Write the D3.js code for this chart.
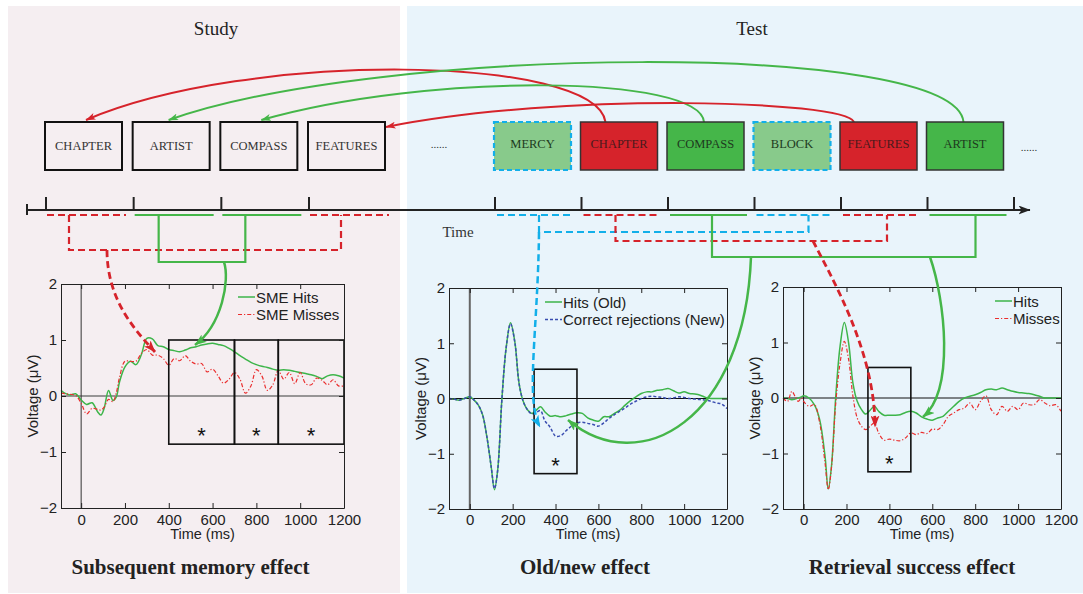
<!DOCTYPE html>
<html><head><meta charset="utf-8">
<script src="https://cdn.jsdelivr.net/npm/d3@7"></script>
<style>body{margin:0;background:#fff}svg{display:block}</style>
</head><body><svg id="c" width="1083" height="594"></svg>
<script>
// ---------------- DATA ----------------
const studyWords = ["CHAPTER", "ARTIST", "COMPASS", "FEATURES"];
const studyOutcome = ["miss", "hit", "hit", "miss"];
const testWords = ["MERCY", "CHAPTER", "COMPASS", "BLOCK", "FEATURES", "ARTIST"];
const testType = ["new", "miss", "hit", "new", "miss", "hit"];
const xTicks = [0, 200, 400, 600, 800, 1000, 1200];
const yTicks = [-2, -1, 0, 1, 2];
const yDomain = [-2, 2];

// Subsequent memory effect
const smeTime = [-92,-75,-50,-25,0,25,50,75,90,105,125,145,160,175,200,225,250,275,300,325,350,375,400,425,450,475,500,525,550,575,600,625,650,675,700,725,750,775,800,825,850,875,900,925,950,975,1000,1025,1050,1075,1100,1125,1150,1175,1200];
const smeHits = [0.10,0.05,0.02,0.04,-0.07,-0.15,-0.12,-0.28,-0.34,-0.22,0.10,-0.08,-0.02,0.25,0.52,0.62,0.56,0.74,1.03,1.02,0.90,0.88,0.83,0.81,0.79,0.82,0.86,0.88,0.91,0.93,0.94,0.92,0.90,0.85,0.79,0.72,0.66,0.60,0.56,0.53,0.51,0.48,0.46,0.47,0.46,0.44,0.42,0.40,0.38,0.35,0.31,0.36,0.38,0.36,0.32];
const smeMisses = [0.05,0.04,0.03,0.01,-0.13,-0.32,-0.22,-0.24,-0.25,-0.20,-0.06,-0.10,0.05,0.33,0.62,0.62,0.62,0.76,0.83,0.73,0.73,0.67,0.55,0.67,0.63,0.72,0.62,0.57,0.58,0.43,0.48,0.36,0.23,0.30,0.42,0.30,0.05,0.18,0.47,0.36,0.10,0.20,0.46,0.30,0.42,0.22,0.42,0.22,0.20,0.32,0.28,0.20,0.29,0.18,0.18];
const smeWindows = [[400, 700], [700, 900], [900, 1200]];

// Old/new effect
const onTime = [-97,-75,-50,-25,0,20,40,60,80,100,115,130,150,170,190,210,230,250,270,290,310,330,350,375,400,425,450,475,500,525,550,575,600,625,650,675,700,725,750,775,800,825,850,875,900,925,950,975,1000,1025,1050,1075,1100,1125,1150,1175,1200];
const onHits = [0.0,-0.01,-0.03,0.0,0.03,-0.03,-0.12,-0.30,-0.70,-1.24,-1.65,-1.30,0.0,0.93,1.37,1.03,0.27,-0.06,-0.21,-0.27,-0.21,-0.15,-0.24,-0.32,-0.31,-0.33,-0.31,-0.28,-0.26,-0.27,-0.35,-0.39,-0.41,-0.33,-0.33,-0.27,-0.21,-0.12,-0.04,0.03,0.09,0.12,0.12,0.15,0.16,0.18,0.14,0.10,0.12,0.09,0.08,0.06,0.02,0.0,0.0,0.0,0.0];
const onCorrectRejections = [0.0,-0.01,-0.03,0.0,0.03,-0.03,-0.12,-0.30,-0.70,-1.24,-1.63,-1.30,0.0,0.93,1.35,1.02,0.27,-0.06,-0.21,-0.28,-0.25,-0.22,-0.40,-0.52,-0.68,-0.67,-0.58,-0.50,-0.44,-0.43,-0.45,-0.47,-0.50,-0.44,-0.36,-0.29,-0.23,-0.17,-0.10,-0.05,0.0,0.03,0.04,0.03,0.02,0.0,0.01,0.03,0.02,0.0,-0.01,-0.02,-0.03,-0.05,-0.08,-0.10,-0.18];
const onWindows = [[300, 500]];

// Retrieval success effect
const rsTime = [-96,-75,-55,-40,-25,-10,0,25,50,75,100,115,130,150,170,190,210,230,250,270,290,310,330,350,375,400,425,450,475,500,525,550,575,600,625,650,675,700,725,750,775,800,825,850,875,900,925,950,975,1000,1025,1050,1075,1100,1125,1150,1175,1200];
const rsHits = [0.0,-0.01,-0.03,-0.02,0.0,0.02,0.04,0.0,-0.12,-0.39,-1.05,-1.64,-1.23,0.03,0.93,1.36,0.99,0.27,-0.06,-0.21,-0.29,-0.22,-0.15,-0.24,-0.31,-0.31,-0.31,-0.30,-0.26,-0.24,-0.27,-0.34,-0.38,-0.40,-0.36,-0.33,-0.24,-0.15,-0.06,0.0,0.03,0.06,0.10,0.15,0.16,0.15,0.18,0.15,0.12,0.10,0.09,0.08,0.06,0.03,0.0,0.0,0.0,0.0];
const rsMisses = [0.0,-0.06,0.12,0.03,-0.06,0.0,-0.06,-0.15,-0.12,-0.45,-1.17,-1.65,-1.25,-0.09,0.63,1.02,0.69,0.03,-0.36,-0.51,-0.57,-0.51,-0.45,-0.63,-0.76,-0.74,-0.76,-0.77,-0.72,-0.63,-0.66,-0.62,-0.64,-0.56,-0.57,-0.48,-0.33,-0.27,-0.21,-0.18,-0.09,-0.21,-0.06,0.04,-0.21,-0.30,-0.15,-0.24,-0.15,-0.21,-0.09,-0.12,-0.12,-0.03,-0.09,-0.14,-0.12,-0.24];
const rsWindows = [[300, 500]];

// ---------------- STYLE ----------------
const C = {
  red: "#d6232b", green: "#45b649", lightGreen: "#88ca8b", cyan: "#12afe9",
  lineGreen: "#3db54a", lineRed: "#ea2e2e", lineBlue: "#3a4db0",
  study: "#f5eef1", test: "#e9f4fb"
};
const sans = "'Liberation Sans', Arial, sans-serif";
const serif = "'Liberation Serif', 'Times New Roman', serif";

const svg = d3.select("#c");

// markers
const defs = svg.append("defs");
function marker(id, color, len, wid) {
  defs.append("marker").attr("id", id)
    .attr("viewBox", `0 0 ${len} ${wid}`)
    .attr("refX", len - 0.5).attr("refY", wid / 2)
    .attr("markerWidth", len).attr("markerHeight", wid)
    .attr("markerUnits", "userSpaceOnUse").attr("orient", "auto")
    .append("path")
    .attr("d", `M0,0 L${len},${wid / 2} L0,${wid} L${len * 0.25},${wid / 2} Z`)
    .attr("fill", color);
}
marker("aRed", C.red, 12, 9);
marker("aGreen", C.green, 12, 9);
marker("aCyan", C.cyan, 12, 9);
marker("aRedS", C.red, 10, 7);
marker("aGreenS", C.green, 10, 7);
marker("aBlack", "#222", 12, 9);

// panels
svg.append("rect").attr("x", 8).attr("y", 6).attr("width", 392).attr("height", 587).attr("fill", C.study);
svg.append("rect").attr("x", 407).attr("y", 6).attr("width", 676).attr("height", 587).attr("fill", C.test);
svg.append("text").attr("x", 216).attr("y", 35).attr("text-anchor", "middle")
  .style("font-family", serif).style("font-size", "19px").attr("fill", "#222").text("Study");
svg.append("text").attr("x", 752).attr("y", 35).attr("text-anchor", "middle")
  .style("font-family", serif).style("font-size", "19px").attr("fill", "#222").text("Test");

// timeline scales (slot -> x)
const studyX = d3.scaleLinear().domain([0, 3]).range([46, 309]);
const testX = d3.scaleLinear().domain([0, 6]).range([495, 1014]);
const boxW = 77, boxTop = 122, boxH = 48, lineY = 210;

// ---- top arcs (test word -> studied word) ----
const arcs = [
  { from: 1, to: 0, color: C.red, sdx: 25, edx: 41, c1: [595, 55], c2: [250, 50], endY: 120 },
  { from: 5, to: 1, color: C.green, sdx: 37, edx: 36, c1: [955, 40], c2: [380, 45], endY: 120 },
  { from: 2, to: 2, color: C.green, sdx: 37, edx: 41, c1: [700, 75], c2: [430, 72], endY: 120 },
  { from: 4, to: 3, color: C.red, sdx: 14, edx: 78, c1: [845, 100], c2: [560, 92], endY: 127 }
];
arcs.forEach(a => {
  const p = d3.path();
  p.moveTo(testX(a.from) - 1 + a.sdx, boxTop);
  p.bezierCurveTo(a.c1[0], a.c1[1], a.c2[0], a.c2[1], studyX(a.to) - 1 + a.edx, a.endY);
  svg.append("path").attr("d", p.toString()).attr("fill", "none").attr("stroke", a.color)
    .attr("stroke-width", 2).attr("marker-end", a.color === C.red ? "url(#aRedS)" : "url(#aGreenS)");
});

// ---- study boxes ----
studyWords.forEach((w, i) => {
  svg.append("rect").attr("x", studyX(i) - 1).attr("y", boxTop).attr("width", boxW).attr("height", boxH)
    .attr("fill", "none").attr("stroke", "#111").attr("stroke-width", 2);
  svg.append("text").attr("x", studyX(i) - 1 + boxW / 2).attr("y", boxTop + 28).attr("text-anchor", "middle")
    .style("font-family", serif).style("font-size", "12.5px").attr("fill", "#333").text(w);
});
// ---- test boxes ----
testWords.forEach((w, i) => {
  const t = testType[i];
  const fill = t === "new" ? C.lightGreen : t === "miss" ? C.red : C.green;
  svg.append("rect").attr("x", testX(i) - 1).attr("y", boxTop).attr("width", boxW).attr("height", boxH)
    .attr("fill", fill)
    .attr("stroke", t === "new" ? C.cyan : "#333")
    .attr("stroke-width", t === "new" ? 2.2 : 1.5)
    .attr("stroke-dasharray", t === "new" ? "5,3" : null);
  svg.append("text").attr("x", testX(i) - 1 + boxW / 2).attr("y", boxTop + 26).attr("text-anchor", "middle")
    .style("font-family", serif).style("font-size", "12.5px").attr("fill", t === "miss" ? "#4a1a1c" : "#1e3a1e").text(w);
});
svg.append("text").attr("x", 439).attr("y", 148).attr("text-anchor", "middle")
  .style("font-family", serif).style("font-size", "11px").attr("fill", "#333").text("......");
svg.append("text").attr("x", 1029).attr("y", 151).attr("text-anchor", "middle")
  .style("font-family", serif).style("font-size", "11px").attr("fill", "#333").text("......");

// ---- timeline ----
svg.append("line").attr("x1", 27).attr("x2", 1030).attr("y1", lineY).attr("y2", lineY)
  .attr("stroke", "#222").attr("stroke-width", 2).attr("marker-end", "url(#aBlack)");
svg.append("line").attr("x1", 27).attr("x2", 27).attr("y1", 204).attr("y2", 215).attr("stroke", "#222").attr("stroke-width", 2);
const tickXs = [0, 1, 2, 3].map(studyX).concat([0, 1, 2, 3, 4, 5, 6].map(testX));
tickXs.forEach(x => svg.append("line").attr("x1", x).attr("x2", x).attr("y1", 197).attr("y2", lineY)
  .attr("stroke", "#222").attr("stroke-width", 2));
svg.append("text").attr("x", 458).attr("y", 237).attr("text-anchor", "middle")
  .style("font-family", serif).style("font-size", "15px").attr("fill", "#333").text("Time");

// segments under each word
const segY = 215;
function segStyle(kind) {
  if (kind === "miss") return { c: C.red, d: "7,4" };
  if (kind === "new") return { c: C.cyan, d: "7,4" };
  return { c: C.green, d: null };
}
studyOutcome.forEach((k, i) => {
  const s = segStyle(k);
  svg.append("line").attr("x1", studyX(i) + 1).attr("x2", studyX(i) + 80).attr("y1", segY).attr("y2", segY)
    .attr("stroke", s.c).attr("stroke-width", 2.2).attr("stroke-dasharray", s.d);
});
testType.forEach((k, i) => {
  const s = segStyle(k);
  svg.append("line").attr("x1", testX(i) + 2).attr("x2", testX(i) + 79).attr("y1", segY).attr("y2", segY)
    .attr("stroke", s.c).attr("stroke-width", 2.2).attr("stroke-dasharray", s.d);
});

// grouping brackets
const groups = [
  { sc: studyX, a: 0, oa: 23, b: 3, ob: 32, y: 250, kind: "miss" },
  { sc: studyX, a: 1, oa: 25, b: 2, ob: 24, y: 262, kind: "hit" },
  { sc: testX, a: 0, oa: 44, b: 3, ob: 54, y: 232, kind: "new" },
  { sc: testX, a: 1, oa: 34, b: 4, ob: 46, y: 241, kind: "miss" },
  { sc: testX, a: 2, oa: 44, b: 5, ob: 48, y: 257, kind: "hit" }
];
groups.forEach(g => {
  const s = segStyle(g.kind);
  const xa = g.sc(g.a) + g.oa, xb = g.sc(g.b) + g.ob;
  svg.append("path").attr("d", `M${xa},${segY} V${g.y} H${xb} V${segY}`)
    .attr("fill", "none").attr("stroke", s.c).attr("stroke-width", 2.2).attr("stroke-dasharray", s.d);
});

// ---------------- ERP CHARTS ----------------
const fmt = d3.format("d");
function erpChart(c) {
  const x = d3.scaleLinear().domain(c.xDomain).range([c.left, c.right]);
  const y = d3.scaleLinear().domain(yDomain).range([c.bottom, c.top]);
  const g = svg.append("g");
  g.append("line").attr("x1", c.left).attr("x2", c.right).attr("y1", y(0)).attr("y2", y(0))
    .attr("stroke", c.hZero[0]).attr("stroke-width", c.hZero[1]);
  g.append("line").attr("x1", x(0)).attr("x2", x(0)).attr("y1", c.top).attr("y2", c.bottom)
    .attr("stroke", c.vZero[0]).attr("stroke-width", c.vZero[1]);

  const line = d3.line().x(d => x(d[0])).y(d => y(d[1])).curve(d3.curveCatmullRom.alpha(0.5));
  c.series.forEach(s => {
    g.append("path").attr("d", line(s.t.map((t, i) => [t, s.v[i]])))
      .attr("fill", "none").attr("stroke", s.color).attr("stroke-width", s.w)
      .attr("stroke-dasharray", s.dash || null);
  });

  c.windows.forEach(w => {
    g.append("rect").attr("x", x(w[0])).attr("y", y(c.win[0]))
      .attr("width", x(w[1]) - x(w[0])).attr("height", y(c.win[1]) - y(c.win[0]))
      .attr("fill", "none").attr("stroke", "#111").attr("stroke-width", 1.6);
    g.append("text").attr("x", (x(w[0]) + x(w[1])) / 2).attr("y", y(c.win[1]) - 1)
      .attr("text-anchor", "middle").style("font-family", sans).style("font-size", "22px")
      .attr("fill", "#111").text("*");
  });

  const styleAx = sel => {
    sel.attr("font-family", null).attr("font-size", null);
    sel.selectAll("text").style("font-family", sans).style("font-size", "15px").attr("fill", "#222");
    sel.selectAll("line").attr("stroke", "#222");
    sel.select(".domain").attr("stroke", "#222");
  };
  const pad = 514 - c.bottom;
  g.append("g").attr("transform", `translate(0,${c.bottom})`)
    .call(d3.axisBottom(x).tickValues(xTicks).tickFormat(fmt).tickSizeInner(-5).tickSizeOuter(0).tickPadding(pad)).call(styleAx);
  g.append("g").attr("transform", `translate(0,${c.top})`)
    .call(d3.axisTop(x).tickValues(xTicks).tickSizeInner(-5).tickSizeOuter(0).tickFormat("")).call(styleAx);
  g.append("g").attr("transform", `translate(${c.left},0)`)
    .call(d3.axisLeft(y).tickValues(yTicks).tickFormat(fmt).tickSizeInner(-5).tickSizeOuter(0).tickPadding(4)).call(styleAx);
  g.append("g").attr("transform", `translate(${c.right},0)`)
    .call(d3.axisRight(y).tickValues(yTicks).tickSizeInner(-5).tickSizeOuter(0).tickFormat("")).call(styleAx);

  g.append("text").attr("x", (c.left + c.right) / 2).attr("y", 539).attr("text-anchor", "middle")
    .style("font-family", sans).style("font-size", "14.5px").attr("fill", "#222").text("Time (ms)");
  g.append("text").attr("transform", `translate(${c.left - 23},${(c.top + c.bottom) / 2}) rotate(-90)`)
    .attr("text-anchor", "middle").style("font-family", sans).style("font-size", "15px")
    .attr("fill", "#222").text("Voltage (\u03bcV)");

  c.series.forEach((s, i) => {
    const ly = c.legend[1] + i * 17.5;
    g.append("line").attr("x1", c.legend[0]).attr("x2", c.legend[0] + 17).attr("y1", ly).attr("y2", ly)
      .attr("stroke", s.color).attr("stroke-width", s.w).attr("stroke-dasharray", s.dash || null);
    g.append("text").attr("x", c.legend[0] + 18).attr("y", ly + 5.5)
      .style("font-family", sans).style("font-size", "15px").attr("fill", "#222").text(s.name);
  });

  g.append("text").attr("x", (c.left + c.right) / 2 + c.titleDx).attr("y", 574).attr("text-anchor", "middle")
    .style("font-family", serif).style("font-size", "21px").style("font-weight", "bold")
    .attr("fill", "#222").text(c.title);
}

erpChart({
  left: 61, right: 344, top: 284, bottom: 508, xDomain: [-92, 1200],
  hZero: ["#777", 1.6], vZero: ["#333", 1],
  windows: smeWindows, win: [1, -0.86],
  series: [
    { name: "SME Hits", t: smeTime, v: smeHits, color: C.lineGreen, w: 1.5 },
    { name: "SME Misses", t: smeTime, v: smeMisses, color: C.lineRed, w: 1.2, dash: "4,2,1.2,2" }
  ],
  legend: [238, 297], title: "Subsequent memory effect", titleDx: -12
});
erpChart({
  left: 449, right: 727, top: 288, bottom: 509, xDomain: [-97, 1200],
  hZero: ["#111", 1], vZero: ["#666", 2],
  windows: onWindows, win: [0.53, -1.36],
  series: [
    { name: "Hits (Old)", t: onTime, v: onHits, color: C.lineGreen, w: 1.5 },
    { name: "Correct rejections (New)", t: onTime, v: onCorrectRejections, color: C.lineBlue, w: 1.5, dash: "3,2" }
  ],
  legend: [545, 302], title: "Old/new effect", titleDx: -3
});
erpChart({
  left: 783, right: 1061, top: 287, bottom: 509, xDomain: [-96, 1200],
  hZero: ["#111", 1], vZero: ["#111", 1],
  windows: rsWindows, win: [0.55, -1.33],
  series: [
    { name: "Hits", t: rsTime, v: rsHits, color: C.lineGreen, w: 1.5 },
    { name: "Misses", t: rsTime, v: rsMisses, color: C.lineRed, w: 1.2, dash: "4,2,1.2,2" }
  ],
  legend: [995, 301], title: "Retrieval success effect", titleDx: -10
});

// ---------------- connecting arrows (brackets -> charts) ----------------
const links = [
  { d: [[107, 250], [107, 300], [135, 330], [155, 352]], color: C.red, dash: "7,4", m: "aRed", w: 2.8 },
  { d: [[224, 262], [230, 280], [222, 325], [195, 345]], color: C.green, dash: null, m: "aGreen", w: 2.5 },
  { d: [[539, 232], [538, 330], [525, 400], [540, 427]], color: C.cyan, dash: "7,4", m: "aCyan", w: 2.5 },
  { d: [[751, 257], [745, 420], [640, 480], [568, 420]], color: C.green, dash: null, m: "aGreen", w: 2.5 },
  { d: [[813, 241], [830, 275], [875, 350], [875, 427]], color: C.red, dash: "7,4", m: "aRed", w: 2.8 },
  { d: [[930, 257], [945, 300], [955, 390], [923, 417]], color: C.green, dash: null, m: "aGreen", w: 2.5 }
];
links.forEach(l => {
  const p = d3.path();
  p.moveTo(l.d[0][0], l.d[0][1]);
  p.bezierCurveTo(l.d[1][0], l.d[1][1], l.d[2][0], l.d[2][1], l.d[3][0], l.d[3][1]);
  svg.append("path").attr("d", p.toString()).attr("fill", "none").attr("stroke", l.color)
    .attr("stroke-width", l.w).attr("stroke-dasharray", l.dash).attr("marker-end", `url(#${l.m})`);
});
</script></body></html>
